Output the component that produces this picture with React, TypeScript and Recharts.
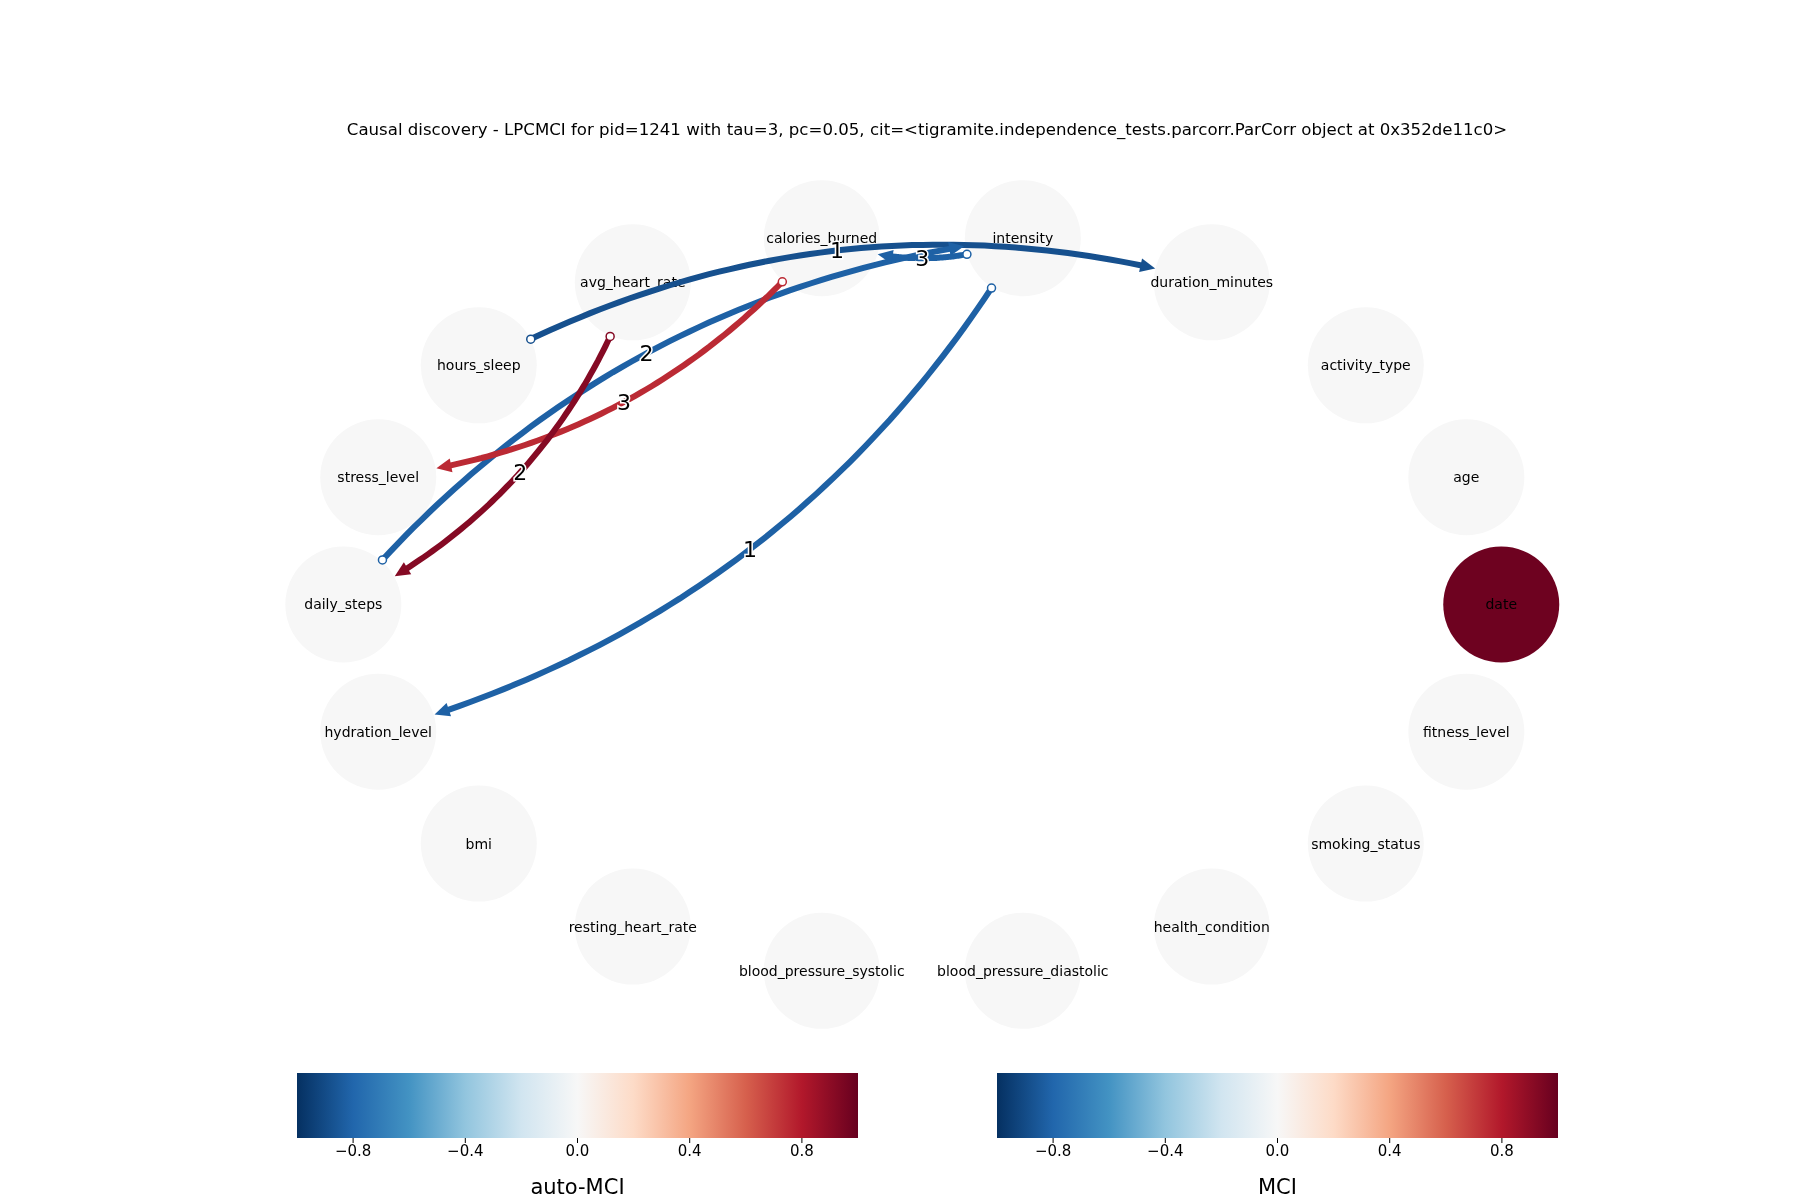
import React from 'react';
import {
  ScatterChart,
  Scatter,
  XAxis,
  YAxis,
  BarChart,
  Bar,
} from 'recharts';

// node names in order around the circle (20 degrees apart, starting at the right)
const nodeNames = [
  'date', 'age', 'activity_type', 'duration_minutes', 'intensity', 'calories_burned',
  'avg_heart_rate', 'hours_sleep', 'stress_level', 'daily_steps', 'hydration_level', 'bmi',
  'resting_heart_rate', 'blood_pressure_systolic', 'blood_pressure_diastolic',
  'health_condition', 'smoking_status', 'fitness_level',
];
// auto-MCI value per node (node colour)
const autoMci = [0.98, 0, 0, 0, 0, 0, 0, 0, 0, 0, 0, 0, 0, 0, 0, 0, 0, 0];

// links: source, target, MCI value, lag label
const linkSource = ['hours_sleep', 'daily_steps', 'intensity', 'calories_burned', 'avg_heart_rate', 'intensity'];
const linkTarget = ['duration_minutes', 'intensity', 'calories_burned', 'stress_level', 'daily_steps', 'hydration_level'];
const linkValue = [-0.88, -0.82, -0.82, 0.75, 0.92, -0.82];
const linkLag = ['1', '2', '3', '3', '2', '1'];

const colorbarTicks = [-0.8, -0.4, 0, 0.4, 0.8];
const colorbarRange = [{ name: 'cb', range: [-1, 1] }];

const RDBU = ['#053061', '#2166ac', '#4393c3', '#92c5de', '#d1e5f0', '#f7f7f7', '#fddbc7', '#f4a582', '#d6604d', '#b2182b', '#67001f'];

const hexToRgb = (h: string) => [1, 3, 5].map((i) => parseInt(h.slice(i, i + 2), 16));
const rdbu = (v: number) => {
  const t = Math.max(0, Math.min(1, (v + 1) / 2)) * 10;
  const i = Math.min(9, Math.floor(t));
  const f = t - i;
  const a = hexToRgb(RDBU[i]);
  const b = hexToRgb(RDBU[i + 1]);
  const c = a.map((x, k) => Math.round(x + (b[k] - x) * f));
  return `rgb(${c[0]},${c[1]},${c[2]})`;
};

const nodes = nodeNames.map((name, i) => ({
  name,
  x: Math.cos((i * 20 * Math.PI) / 180),
  y: Math.sin((i * 20 * Math.PI) / 180),
  value: autoMci[i],
}));
const nodeOf = (n: string) => nodes.find((d) => d.name === n)!;

const NODE_R = 58;
const RAD = 0.2;

const NodeShape = (props: any) => {
  const { cx, cy, payload } = props;
  return (
    <g>
      <circle cx={cx} cy={cy} r={NODE_R} fill={rdbu(payload.value)} />
      <text x={cx} y={cy} textAnchor="middle" dominantBaseline="central" fontSize={14} fill="#000">
        {payload.name}
      </text>
    </g>
  );
};

const EdgeLine = (props: any) => {
  const { points, color, lag } = props;
  if (!points || points.length < 2) return null;
  const p0 = points[0];
  const p2 = points[1];
  const dx = p2.x - p0.x;
  const dy = p2.y - p0.y;
  const c = { x: (p0.x + p2.x) / 2 + RAD * dy, y: (p0.y + p2.y) / 2 - RAD * dx };
  const B = (t: number) => ({
    x: (1 - t) * (1 - t) * p0.x + 2 * (1 - t) * t * c.x + t * t * p2.x,
    y: (1 - t) * (1 - t) * p0.y + 2 * (1 - t) * t * c.y + t * t * p2.y,
  });
  let t0 = 0;
  while (t0 < 0.5 && Math.hypot(B(t0).x - p0.x, B(t0).y - p0.y) < NODE_R) t0 += 0.002;
  let t1 = 1;
  while (t1 > 0.5 && Math.hypot(B(t1).x - p2.x, B(t1).y - p2.y) < NODE_R) t1 -= 0.002;
  const tip = B(t1);
  const prev = B(t1 - 0.01);
  const len = Math.hypot(tip.x - prev.x, tip.y - prev.y) || 1;
  const ux = (tip.x - prev.x) / len;
  const uy = (tip.y - prev.y) / len;
  const AL = 15;
  const AW = 7;
  const base = { x: tip.x - ux * AL, y: tip.y - uy * AL };
  // line stops at arrow base
  let tEnd = t1;
  while (tEnd > t0 && Math.hypot(B(tEnd).x - tip.x, B(tEnd).y - tip.y) < AL - 2) tEnd -= 0.002;
  const pts: string[] = [];
  for (let k = 0; k <= 60; k++) {
    const p = B(t0 + ((tEnd - t0) * k) / 60);
    pts.push(`${p.x.toFixed(1)},${p.y.toFixed(1)}`);
  }
  const start = B(t0);
  const mid = B(0.5);
  return (
    <g>
      <polyline points={pts.join(' ')} fill="none" stroke={color} strokeWidth={6} strokeLinecap="butt" />
      <polygon
        points={`${tip.x},${tip.y} ${base.x - uy * AW},${base.y + ux * AW} ${base.x + uy * AW},${base.y - ux * AW}`}
        fill={color}
      />
      <circle cx={start.x} cy={start.y} r={4} fill="#fff" stroke={color} strokeWidth={1.5} />
      <text
        x={mid.x}
        y={mid.y}
        textAnchor="middle"
        dominantBaseline="central"
        fontSize={22}
        fill="#000"
        stroke="#fff"
        strokeWidth={3}
        paintOrder="stroke"
      >
        {lag}
      </text>
    </g>
  );
};

const Colorbar = ({ left, label, id }: { left: number; label: string; id: string }) => (
  <div style={{ position: 'absolute', left, top: 1073 }}>
    <BarChart
      width={561}
      height={125}
      layout="vertical"
      data={colorbarRange}
      margin={{ top: 0, right: 0, bottom: 0, left: 0 }}
      barCategoryGap={0}
    >
      <defs>
        <linearGradient id={id} x1="0" y1="0" x2="1" y2="0">
          {RDBU.map((c, i) => (
            <stop key={i} offset={`${i * 10}%`} stopColor={c} />
          ))}
        </linearGradient>
      </defs>
      <XAxis
        type="number"
        domain={[-1, 1]}
        ticks={colorbarTicks}
        tickFormatter={(v: number) => (v === 0 ? '0.0' : v < 0 ? `\u2212${Math.abs(v).toFixed(1)}` : v.toFixed(1))}
        axisLine={false}
        tickLine={{ stroke: '#000' }}
        tickSize={5}
        tick={{ fontSize: 15, fill: '#000' }}
        height={60}
        label={{ value: label, position: 'insideBottom', offset: 4, fontSize: 21, fill: '#000' }}
        allowDataOverflow
      />
      <YAxis type="category" dataKey="name" hide />
      <Bar dataKey="range" fill={`url(#${id})`} isAnimationActive={false} />
    </BarChart>
  </div>
);

export default function App() {
  return (
    <div style={{ position: 'fixed', left: 0, top: 0, width: 1800, height: 1200, background: '#fff', fontFamily: 'DejaVu Sans' }}>
      <div style={{ position: 'absolute', top: 120, left: 0, width: 1854, textAlign: 'center', fontSize: 16.6 }}>
        Causal discovery - LPCMCI for pid=1241 with tau=3, pc=0.05, cit=&lt;tigramite.independence_tests.parcorr.ParCorr object at 0x352de11c0&gt;
      </div>
      <div style={{ position: 'absolute', left: 0, top: 0 }}>
        <ScatterChart width={1800} height={1200} margin={{ top: 0, right: 0, bottom: 0, left: 0 }}>
          <XAxis type="number" dataKey="x" domain={[-1.593, 1.516]} hide allowDataOverflow />
          <YAxis type="number" dataKey="y" domain={[-1.601, 1.625]} hide allowDataOverflow />
          <Scatter data={nodes} shape={<NodeShape />} isAnimationActive={false} />
          {linkSource.map((s, i) => (
            <Scatter
              key={i}
              data={[nodeOf(s), nodeOf(linkTarget[i])]}
              shape={() => <g />}
              line={<EdgeLine color={rdbu(linkValue[i])} lag={linkLag[i]} />}
              isAnimationActive={false}
            />
          ))}
        </ScatterChart>
      </div>
      <Colorbar left={297} label="auto-MCI" id="cbA" />
      <Colorbar left={997} label="MCI" id="cbB" />
    </div>
  );
}
